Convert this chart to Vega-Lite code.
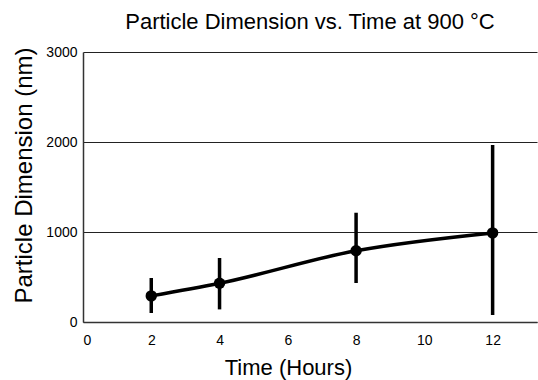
{
  "$schema": "https://vega.github.io/schema/vega-lite/v6.json",
  "width": 454,
  "height": 270,
  "autosize": {"type": "none"},
  "padding": {"left": 83, "top": 52, "right": 1, "bottom": 58},
  "background": "white",
  "config": {
    "view": {"stroke": null},
    "font": "Liberation Sans"
  },
  "title": {
    "text": "Particle Dimension vs. Time at 900 °C",
    "fontSize": 22,
    "fontWeight": "normal",
    "color": "#000",
    "anchor": "middle",
    "offset": 11
  },
  "data": {
    "values": [
      {"t": 2, "d": 290, "lo": 100, "hi": 489},
      {"t": 4, "d": 430, "lo": 140, "hi": 711},
      {"t": 8, "d": 792, "lo": 433, "hi": 1214},
      {"t": 12, "d": 990, "lo": 78, "hi": 1967}
    ]
  },
  "encoding": {
    "x": {
      "field": "t",
      "type": "quantitative",
      "scale": {"domain": [0, 13.3], "nice": false, "zero": false},
      "axis": {
        "title": "Time (Hours)",
        "values": [0, 2, 4, 6, 8, 10, 12],
        "format": "d",
        "grid": false,
        "ticks": false,
        "domainColor": "#333",
        "domainWidth": 1.5,
        "labelFontSize": 14,
        "labelColor": "#000",
        "labelPadding": 11,
        "titleFontSize": 22,
        "titleFontWeight": "normal",
        "titleColor": "#000",
        "titlePadding": 10,
        "titleX": 205
      }
    }
  },
  "layer": [
    {
      "mark": {"type": "rule", "strokeWidth": 3.5, "color": "#000"},
      "encoding": {
        "y": {
          "field": "lo",
          "type": "quantitative",
          "scale": {"domain": [0, 3000], "nice": false},
          "axis": {
            "title": "Particle Dimension (nm)",
            "values": [0, 1000, 2000, 3000],
            "format": "d",
            "grid": true,
            "gridColor": "#222",
            "gridWidth": 1.2,
            "gridOpacity": 1,
            "ticks": false,
            "domainColor": "#333",
            "domainWidth": 1.5,
            "labelFontSize": 14,
            "labelColor": "#000",
            "labelPadding": 6,
            "titleFontSize": 24,
            "titleFontWeight": "normal",
            "titleColor": "#000",
            "titlePadding": 9,
            "titleY": 123
          }
        },
        "y2": {"field": "hi"}
      }
    },
    {
      "mark": {"type": "line", "interpolate": "monotone", "strokeWidth": 3.5, "color": "#000"},
      "encoding": {
        "y": {"field": "d", "type": "quantitative"}
      }
    },
    {
      "mark": {"type": "point", "filled": true, "size": 130, "color": "#000", "opacity": 1},
      "encoding": {
        "y": {"field": "d", "type": "quantitative"}
      }
    }
  ]
}
